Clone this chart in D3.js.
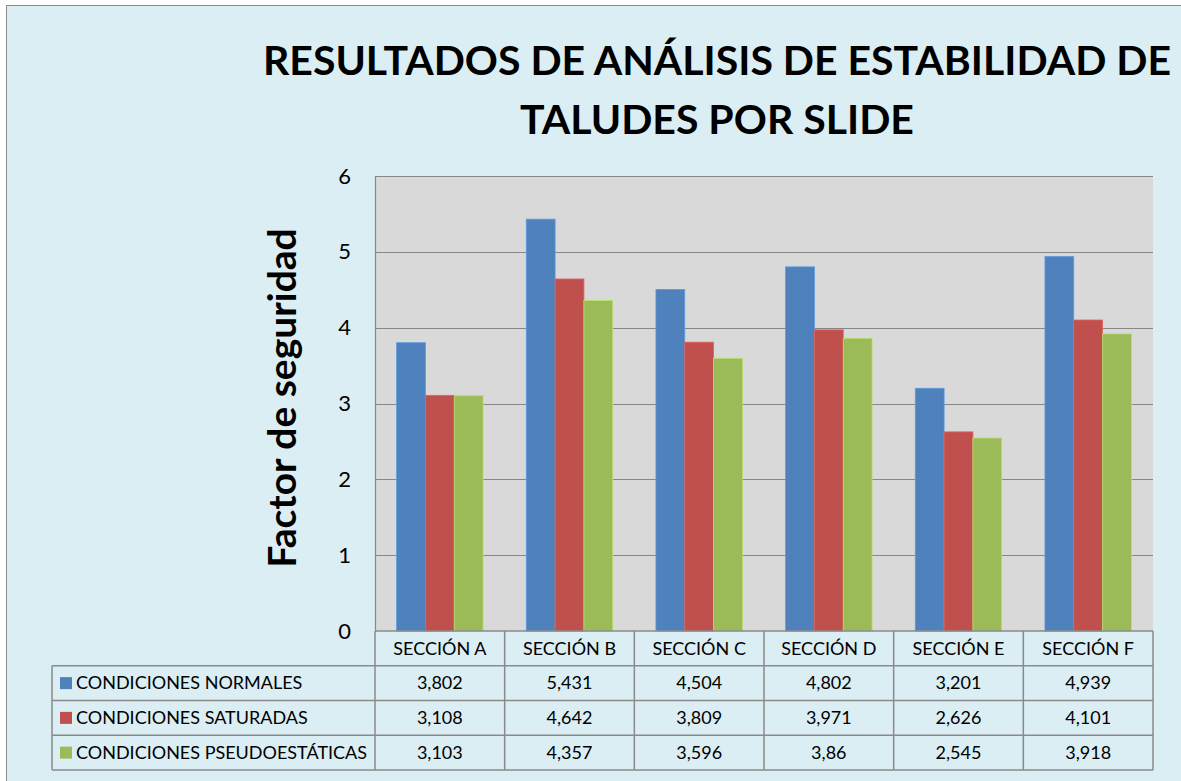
<!DOCTYPE html>
<html>
<head>
<meta charset="utf-8">
<script src="https://cdn.jsdelivr.net/npm/d3@7"></script>
<style>
  html, body { margin: 0; padding: 0; background: #ffffff; }
  svg { display: block; }
</style>
</head>
<body>
<svg id="chart" width="1181" height="781"></svg>
<script>
// Safety factors per section and loading condition
const categories = ["SECCIÓN A", "SECCIÓN B", "SECCIÓN C", "SECCIÓN D", "SECCIÓN E", "SECCIÓN F"];
const seriesNames = ["CONDICIONES NORMALES", "CONDICIONES SATURADAS", "CONDICIONES PSEUDOESTÁTICAS"];
const normales = [3.802, 5.431, 4.504, 4.802, 3.201, 4.939];
const saturadas = [3.108, 4.642, 3.809, 3.971, 2.626, 4.101];
const pseudoestaticas = [3.103, 4.357, 3.596, 3.86, 2.545, 3.918];
const yTicks = [0, 1, 2, 3, 4, 5, 6];
const colors = ["#4F81BD", "#C0504D", "#9BBB59"];

const seriesValues = [normales, saturadas, pseudoestaticas];
const FONT = "Lato, 'Open Sans', sans-serif";

const svg = d3.select("#chart");

// chart background with frame
svg.append("rect").attr("x", 6.5).attr("y", 5.5).attr("width", 1200).attr("height", 800)
  .attr("fill", "#DBEEF4").attr("stroke", "#8C8C8C").attr("stroke-width", 1);

const plot = { left: 375, right: 1153, top: 176, bottom: 631 };

const x = d3.scaleBand().domain(categories).range([plot.left, plot.right]);
const xs = d3.scaleBand().domain(seriesNames).range([0, x.bandwidth()])
  .paddingInner(0).paddingOuter(0.75);
const y = d3.scaleLinear().domain([0, 6]).range([plot.bottom, plot.top]);

// plot area
svg.append("rect").attr("x", plot.left).attr("y", plot.top)
  .attr("width", plot.right - plot.left).attr("height", plot.bottom - plot.top)
  .attr("fill", "#D9D9D9");

// gridlines
svg.append("g").selectAll("line").data(yTicks.filter(t => t > 0)).join("line")
  .attr("x1", plot.left).attr("x2", plot.right)
  .attr("y1", d => Math.round(y(d)) + 0.5).attr("y2", d => Math.round(y(d)) + 0.5)
  .attr("stroke", "#878787").attr("stroke-width", 1.2);

// left axis line
svg.append("line").attr("x1", plot.left + 0.5).attr("x2", plot.left + 0.5)
  .attr("y1", plot.top).attr("y2", plot.bottom)
  .attr("stroke", "#878787").attr("stroke-width", 1.2);

// y tick labels
const yAxis = d3.axisLeft(y).tickValues(yTicks).tickFormat(d3.format("d")).tickSize(0).tickPadding(0);
const gy = svg.append("g").attr("transform", `translate(${plot.left - 24},0)`).call(yAxis);
gy.select(".domain").remove();
gy.selectAll("text").attr("font-family", FONT).attr("font-size", 22).attr("fill", "#000");

// bars
const bars = svg.append("g");
seriesNames.forEach((s, si) => {
  bars.selectAll(null).data(categories).join("rect")
    .attr("x", (c) => x(c) + xs(s))
    .attr("y", (c, i) => y(seriesValues[si][i]))
    .attr("width", xs.bandwidth())
    .attr("height", (c, i) => y(0) - y(seriesValues[si][i]))
    .attr("fill", colors[si])
    .attr("stroke", d3.color(colors[si]).brighter(0.5))
    .attr("stroke-width", 0.8);
});

// data table
const tableLeft = 52;
const rowH = (770 - plot.bottom) / 4;
const rowY = i => plot.bottom + rowH * i;
const tbl = svg.append("g");
const lineColor = "#8A8A8A";

// horizontal lines
tbl.append("line").attr("x1", plot.left).attr("x2", plot.right)
  .attr("y1", rowY(0)).attr("y2", rowY(0)).attr("stroke", lineColor).attr("stroke-width", 1.5);
[1, 2, 3, 4].forEach(i => {
  tbl.append("line").attr("x1", tableLeft).attr("x2", plot.right)
    .attr("y1", rowY(i)).attr("y2", rowY(i)).attr("stroke", lineColor).attr("stroke-width", 1.5);
});
// vertical lines
tbl.append("line").attr("x1", tableLeft).attr("x2", tableLeft)
  .attr("y1", rowY(1)).attr("y2", rowY(4)).attr("stroke", lineColor).attr("stroke-width", 1.5);
categories.forEach(c => {
  tbl.append("line").attr("x1", x(c)).attr("x2", x(c))
    .attr("y1", rowY(0)).attr("y2", rowY(4)).attr("stroke", lineColor).attr("stroke-width", 1.5);
});
tbl.append("line").attr("x1", plot.right).attr("x2", plot.right)
  .attr("y1", rowY(0)).attr("y2", rowY(4)).attr("stroke", lineColor).attr("stroke-width", 1.5);

const TFS = 18;
// header
tbl.selectAll(null).data(categories).join("text")
  .attr("x", c => x(c) + x.bandwidth() / 2).attr("y", rowY(0) + rowH / 2)
  .attr("dy", "0.35em").attr("text-anchor", "middle")
  .attr("font-family", FONT).attr("font-size", TFS).attr("fill", "#000")
  .text(c => c);

const fmt = v => String(v).replace(".", ",");
seriesNames.forEach((s, si) => {
  const yc = rowY(si + 1) + rowH / 2;
  tbl.append("rect").attr("x", 60).attr("y", yc - 6).attr("width", 12).attr("height", 12)
    .attr("fill", colors[si]);
  tbl.append("text").attr("x", 76).attr("y", yc).attr("dy", "0.35em")
    .attr("font-family", FONT).attr("font-size", TFS).attr("fill", "#000").text(s);
  tbl.selectAll(null).data(categories).join("text")
    .attr("x", c => x(c) + x.bandwidth() / 2).attr("y", yc)
    .attr("dy", "0.35em").attr("text-anchor", "middle")
    .attr("font-family", FONT).attr("font-size", TFS).attr("fill", "#000")
    .text((c, i) => fmt(seriesValues[si][i]));
});

// y axis title
svg.append("text")
  .attr("transform", `translate(296,398) rotate(-90)`)
  .attr("text-anchor", "middle")
  .attr("font-family", FONT).attr("font-weight", "bold").attr("font-size", 39).attr("fill", "#000")
  .text("Factor de seguridad");

// title
const title = svg.append("text").attr("text-anchor", "middle")
  .attr("font-family", FONT).attr("font-weight", "bold").attr("font-size", 41).attr("fill", "#000");
title.append("tspan").attr("x", 717).attr("y", 75).text("RESULTADOS DE ANÁLISIS DE ESTABILIDAD DE");
title.append("tspan").attr("x", 717).attr("y", 134).text("TALUDES POR SLIDE");
</script>
</body>
</html>
